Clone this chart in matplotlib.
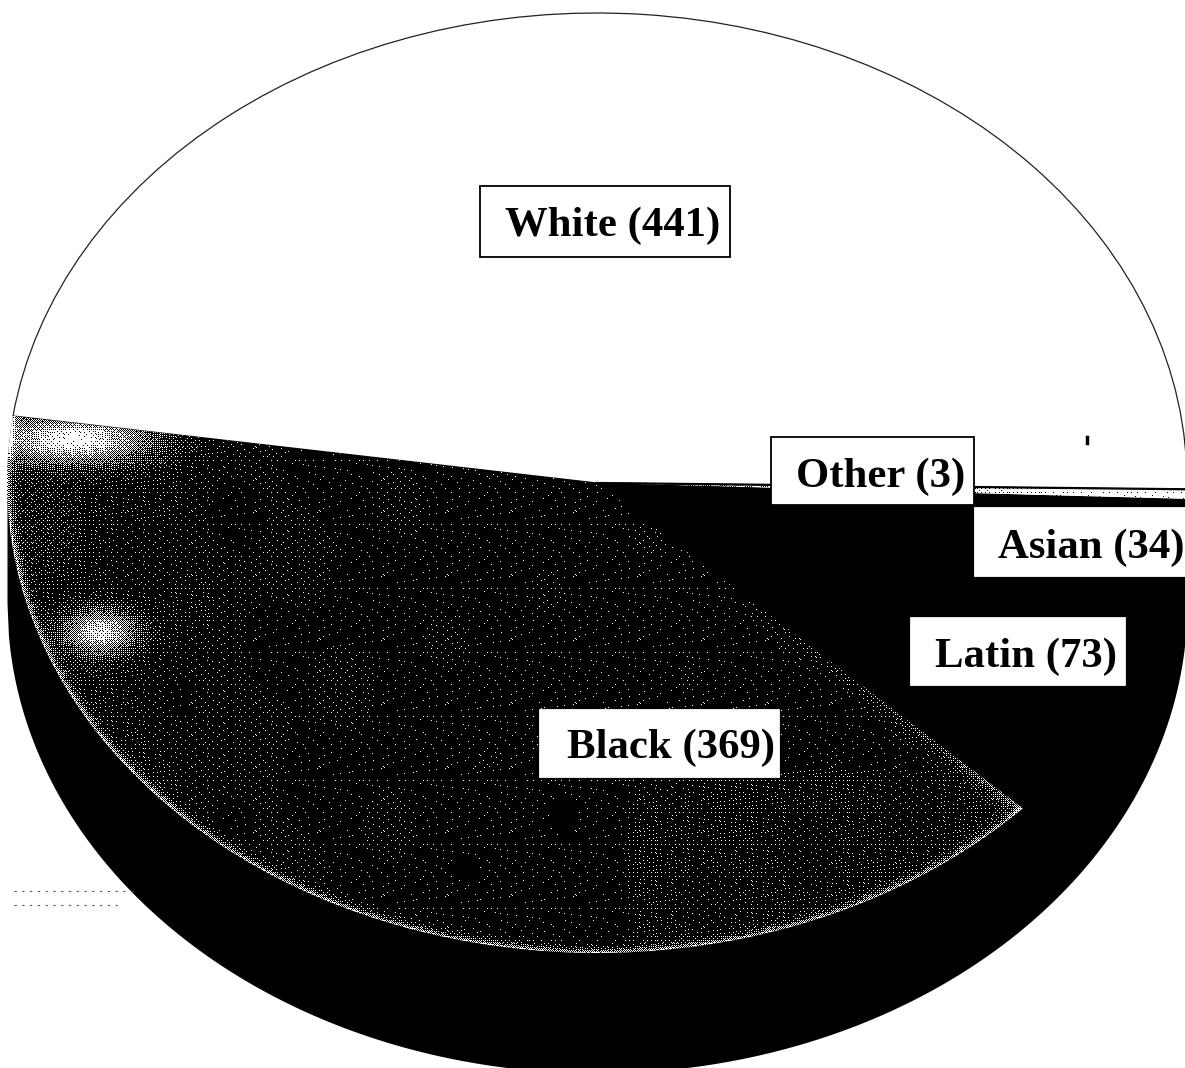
import numpy as np
import matplotlib
matplotlib.use('Agg')
import matplotlib.pyplot as plt
from matplotlib.patches import Rectangle

# Данные диаграммы
groups = ['White', 'Other', 'Asian', 'Latin', 'Black']
counts = [441, 3, 34, 73, 369]
slice_colors = ['white', 'white', 'black', 'black', 'black']
labels = [f'{g} ({c})' for g, c in zip(groups, counts)]

# Геометрия эллипса в пикселях картинки
W, H = 1185, 1068
CX, CY = 597, 483
RX, RY = 590, 470
DEPTH = 120
START_ANGLE = 171.8


def to_data(x, y):
    return (x - CX) / RX, (CY - y) / RY


def bayer(n):
    # Матрица упорядоченного дизеринга, имитирует растр скана
    m = np.array([[0]])
    for _ in range(n):
        m = np.block([[4 * m, 4 * m + 2], [4 * m + 3, 4 * m + 1]])
    return (m + 0.5) / m.size


def spot(px, py, x0, y0, sx, sy, amp):
    return amp * np.exp(-((px - x0) / sx) ** 2 - ((py - y0) / sy) ** 2)


fig = plt.figure(figsize=(W / 100, H / 100), dpi=100)
ax = fig.add_axes([0, 0, 1, 1])

# Боковая стенка объёмного круга
xs = np.linspace(-1, 1, 800)
ax.fill_between(xs, 0, -DEPTH / RY - np.sqrt(1 - xs ** 2), color='black', lw=0, zorder=0)

wedges, _ = ax.pie(counts, colors=slice_colors, startangle=START_ANGLE, counterclock=False,
                   wedgeprops={'linewidth': 0})
for w in wedges:
    w.set_zorder(1)
wedges[0].set(edgecolor='#222222', linewidth=0.9)

# Растр для сектора Black: блоки 8x8 со сдвигом, чтобы сетка не читалась
py, px = np.mgrid[0:H, 0:W]
ux, uy = to_data(px, py)
r = np.hypot(ux, uy)
th = bayer(3)
bx, by = px // 8, py // 8
shift_x = (bx * bx * 3 + by * by * 5 + bx * by) % 8
shift_y = (bx * by * 7 + by * by * 3 + bx) % 8
thresh = th[(py + shift_y) % 8, (px + shift_x) % 8]

black_start = np.radians(START_ANGLE + 360 * counts[-1] / sum(counts))
ang = np.arctan2(uy, ux)
ray_dist = np.abs(np.sin(ang - black_start)) * r

# Плотность крапинок: комки, светлые пятна и край сектора
clumps = 0.72 + 0.28 * np.sin(px * 0.037 + py * 0.011) * np.sin(py * 0.029 - px * 0.017)
density = (0.024 + 0.12 * np.exp(-px / 110) + 0.04 * ((px > 625) & (py > 770))) * clumps
density = density * np.where((px > 430) & (px < 620) & (py > 770), 0.65, 1)
density = density + 0.7 * np.exp(-np.clip(1 - r, 0, None) / 0.006) * np.clip(r, 0, 1)
density = density + 0.55 * np.exp(-ray_dist / 0.012) * r ** 3
density = density + spot(px, py, 75, 440, 70, 22, 0.95) + spot(px, py, 100, 632, 34, 20, 0.8)
stipple = (density > thresh).astype(float)

extent = (to_data(-0.5, 0)[0], to_data(W - 0.5, 0)[0], to_data(0, H - 0.5)[1], to_data(0, -0.5)[1])
im = ax.imshow(stipple, extent=extent, origin='upper', cmap='gray', vmin=0, vmax=1,
               interpolation='nearest', aspect='auto', zorder=2)
im.set_clip_path(wedges[4])

# Тонкий сектор Other с тёмной крапинкой
other_density = 0.3 * np.clip((1110 - px) / 400, 0.08, 1)
other = (other_density <= thresh).astype(float)
im2 = ax.imshow(other, extent=extent, origin='upper', cmap='gray', vmin=0, vmax=1,
                interpolation='nearest', aspect='auto', zorder=2)
im2.set_clip_path(wedges[1])

# Чёрная линия между White и Other
angle0 = np.radians(START_ANGLE - 360 * counts[0] / sum(counts))
ax.plot([0, np.cos(angle0)], [0, np.sin(angle0)], color='black', lw=1.6, zorder=3)

# Подписи в прямоугольниках
boxes = [(480, 186, 730, 257, True), (771, 437, 974, 505, True), (975, 508, 1185, 576, False),
         (911, 618, 1125, 685, False), (540, 710, 779, 777, False)]
text_pos = [(613, 226), (881, 477), (1091, 548), (1026, 657), (671, 748)]
for label, (x0, y0, x1, y1, edged), (tx, ty) in zip(labels, boxes, text_pos):
    dx0, dy0 = to_data(x0, y1)
    dx1, dy1 = to_data(x1, y0)
    ax.add_patch(Rectangle((dx0, dy0), dx1 - dx0, dy1 - dy0, facecolor='white',
                           edgecolor='black' if edged else 'white', linewidth=1.3, zorder=4))
    ax.text(*to_data(tx, ty), label, family='Liberation Serif', fontweight='bold', fontsize=30.8,
            ha='center', va='center', color='black', zorder=5)

# Следы скана
ax.plot(*zip(to_data(1087, 437), to_data(1087, 443)), color='black', lw=2.5, zorder=3)
for y_line, x_end in ((891, 135), (905, 122)):
    ax.plot(*zip(to_data(14, y_line), to_data(x_end, y_line)), color='#555555', lw=0.8,
            ls=(0, (2, 5)), zorder=3)

ax.set_aspect('auto')
ax.set_xlim(to_data(0, 0)[0], to_data(W, 0)[0])
ax.set_ylim(to_data(0, H)[1], to_data(0, 0)[1])
ax.axis('off')

fig.savefig('out.png', dpi=100, facecolor='white')
